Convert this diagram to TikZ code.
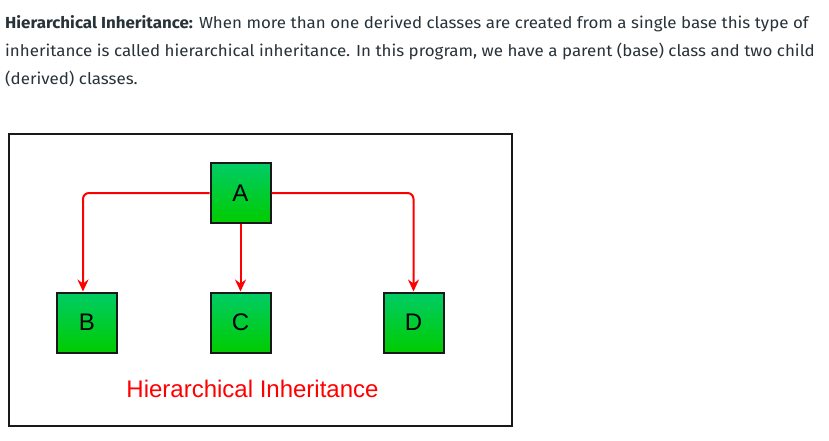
\documentclass[tikz,border=0pt]{standalone}
\usepackage{fontspec}
\setmainfont{Fira Sans}
\newfontfamily\arialfont{Liberation Sans}
\usetikzlibrary{arrows.meta}
\definecolor{txtgray}{RGB}{39,50,57}
\definecolor{gtop}{RGB}{0,204,102}
\definecolor{gbot}{RGB}{0,204,0}
\tikzset{
  classbox/.style={draw=black!90, line width=2pt, top color=gtop, bottom color=gbot,
    minimum width=60pt, minimum height=60pt, inner sep=0pt, font=\arialfont\fontsize{24}{24}\selectfont},
  inh/.style={draw=red, line width=2pt, rounded corners=6pt,
    -{Stealth[length=12pt,width=11pt,inset=4pt]}},
  para/.style={anchor=base west, inner sep=0pt, text=txtgray, font=\fontsize{16}{18}\selectfont}
}
\newcommand{\wideline}[1]{\scalebox{1.058}[1]{#1}}
\begin{document}
\begin{tikzpicture}[x=1pt,y=-1pt]
\useasboundingbox (0,0) rectangle (829,441);
\fill[white] (0,0) rectangle (829,441);
\node[para] (l1) at (5,29) {\wideline{\textbf{Hierarchical Inheritance:} When more than one derived classes are created from a single base this type of}};
\node[para] (l2) at (5,57) {\wideline{inheritance is called hierarchical inheritance. In this program, we have a parent (base) class and two child}};
\node[para] (l3) at (5,85) {\wideline{(derived) classes.}};
\node[draw=black!90, line width=2pt, minimum width=503pt, minimum height=292pt, anchor=north west, inner sep=0pt] (frame) at (8,133) {};
\node[classbox] (A) at (240.5,193) {A};
\node[classbox] (B) at (87,322.5) {B};
\node[classbox] (C) at (240.5,322.5) {C};
\node[classbox] (D) at (413.5,322.5) {D};
\draw[inh] (A.west) -| ([xshift=-4pt]B.north);
\draw[inh] (A.south) -- (C.north);
\draw[inh] (A.east) -| (D.north);
\node[text=red, font=\arialfont\fontsize{24}{24}\selectfont, inner sep=0pt] (title) at (252.5,389) {Hierarchical Inheritance};
\end{tikzpicture}
\end{document}
